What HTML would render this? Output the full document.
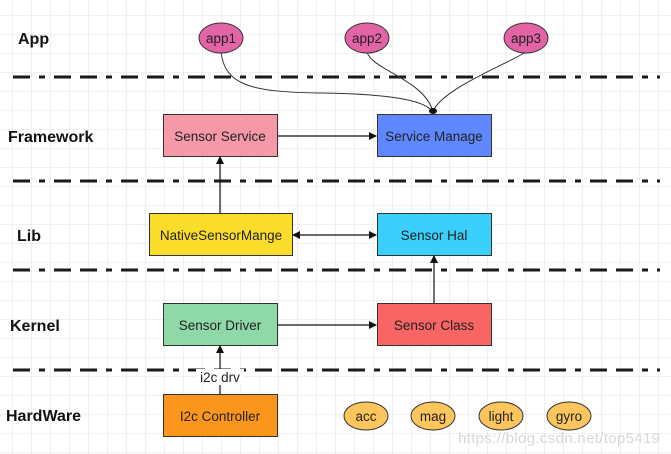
<!DOCTYPE html>
<html><head><meta charset="utf-8"><style>
html,body{margin:0;padding:0;background:#fff;}
svg{display:block;font-family:"Liberation Sans",sans-serif;}
</style></head><body>
<svg width="671" height="454" viewBox="0 0 671 454" xmlns="http://www.w3.org/2000/svg">
<defs>
<pattern id="g" x="-6" y="-3" width="19" height="19" patternUnits="userSpaceOnUse">
<path d="M19 0V19M0 19H19" stroke="#e2e2e2" stroke-width="1" fill="none"/>
</pattern>
<marker id="a" markerWidth="8" markerHeight="8" refX="7" refY="4" orient="auto" markerUnits="userSpaceOnUse">
<path d="M0,0 L8,4 L0,8 Z" fill="#111"/></marker>
<marker id="as" markerWidth="8" markerHeight="8" refX="1" refY="4" orient="auto" markerUnits="userSpaceOnUse">
<path d="M8,0 L0,4 L8,8 Z" fill="#111"/></marker>
</defs>
<rect width="671" height="454" fill="url(#g)"/>
<g stroke="#1a1a1a" stroke-width="3" stroke-dasharray="17 9 6 9 17 9">
<line x1="13" y1="77" x2="660" y2="77"/>
<line x1="13" y1="181" x2="660" y2="181"/>
<line x1="13" y1="270" x2="660" y2="270"/>
<line x1="13" y1="370" x2="660" y2="370"/>
</g>
<g font-weight="bold" font-size="16" fill="#111">
<text x="18" y="44">App</text>
<text x="8" y="142">Framework</text>
<text x="17" y="241">Lib</text>
<text x="10" y="331">Kernel</text>
<text x="6" y="421">HardWare</text>
</g>
<g fill="none" stroke="#333" stroke-width="1">
<path d="M221 52 C225 85 250 92 320 93 C390 94 425 100 433 112"/>
<path d="M367 52 C372 70 425 80 433 112"/>
<path d="M526 52 C505 65 440 90 433 112"/>
</g>
<ellipse cx="433" cy="111" rx="4" ry="3" fill="#111"/>
<g stroke="#333" stroke-width="1">
<ellipse cx="221" cy="38" rx="22" ry="15" fill="#e264a6"/>
<ellipse cx="367" cy="38" rx="22" ry="15" fill="#e264a6"/>
<ellipse cx="526" cy="38" rx="22" ry="15" fill="#e264a6"/>
<rect x="163.5" y="114.5" width="114" height="42" fill="#f599a8"/>
<rect x="377.5" y="114.5" width="114" height="42" fill="#6088fe"/>
<rect x="149.5" y="213.5" width="143" height="42" fill="#fadd2a"/>
<rect x="377.5" y="213.5" width="114" height="42" fill="#3ad0fb"/>
<rect x="163.5" y="303.5" width="114" height="42" fill="#8fd8a8"/>
<rect x="377.5" y="303.5" width="114" height="42" fill="#f96565"/>
<rect x="163.5" y="394.5" width="114" height="42" fill="#fb961c"/>
<ellipse cx="366" cy="416" rx="22" ry="14" fill="#fcc55e"/>
<ellipse cx="433" cy="416" rx="22" ry="14" fill="#fcc55e"/>
<ellipse cx="501" cy="416" rx="22" ry="14" fill="#fcc55e"/>
<ellipse cx="569" cy="416" rx="22" ry="14" fill="#fcc55e"/>
</g>
<g stroke="#111" stroke-width="1.2" fill="none">
<line x1="278" y1="136" x2="376" y2="136" marker-end="url(#a)"/>
<line x1="220" y1="213" x2="220" y2="157" marker-end="url(#a)"/>
<line x1="293" y1="235" x2="376" y2="235" marker-start="url(#as)" marker-end="url(#a)"/>
<line x1="434" y1="303" x2="434" y2="256" marker-end="url(#a)"/>
<line x1="278" y1="325" x2="376" y2="325" marker-end="url(#a)"/>
<line x1="220" y1="394" x2="220" y2="346" marker-end="url(#a)"/>
</g>
<rect x="196" y="369" width="48" height="16" fill="#fff"/>
<g font-size="13.5" fill="#222" text-anchor="middle">
<text x="220" y="382">i2c drv</text>
<text x="221" y="43">app1</text>
<text x="367" y="43">app2</text>
<text x="526" y="43">app3</text>
<text x="220" y="141">Sensor Service</text>
<text x="434" y="141">Service Manage</text>
<text x="221" y="240">NativeSensorMange</text>
<text x="434" y="240">Sensor Hal</text>
<text x="220" y="330">Sensor Driver</text>
<text x="434" y="330">Sensor Class</text>
<text x="220" y="421">I2c Controller</text>
<text x="366" y="421">acc</text>
<text x="433" y="421">mag</text>
<text x="501" y="421">light</text>
<text x="569" y="421">gyro</text>
</g>
<text x="458" y="443" font-size="15" fill="#d8d8d8" textLength="202">https://blog.csdn.net/top5419</text>
</svg>
</body></html>
